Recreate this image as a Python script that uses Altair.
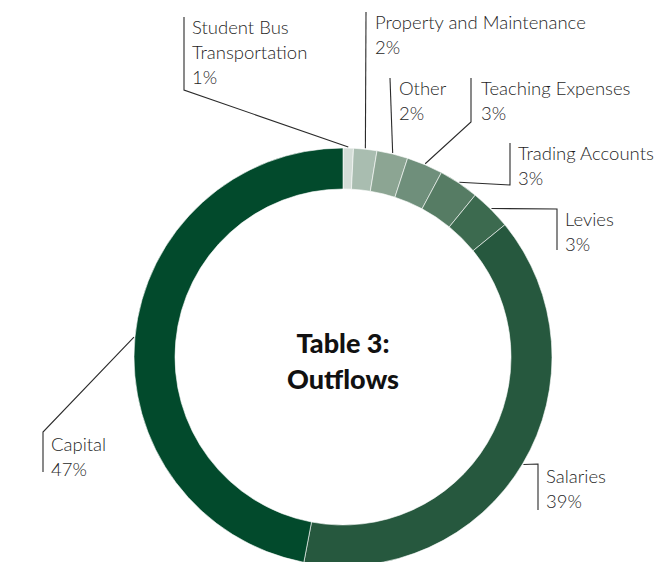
import math
import altair as alt
import pandas as pd

# ---- data ----
categories = ["Student Bus Transportation", "Property and Maintenance", "Other",
              "Teaching Expenses", "Trading Accounts", "Levies", "Salaries", "Capital"]
values = [0.8, 1.8, 2.4, 2.8, 3.1, 3.2, 38.9, 47.0]
pct_labels = ["1%", "2%", "2%", "3%", "3%", "3%", "39%", "47%"]
name_lines = [["Student Bus", "Transportation"], ["Property and Maintenance"], ["Other"],
              ["Teaching Expenses"], ["Trading Accounts"], ["Levies"], ["Salaries"], ["Capital"]]
colors = ["#d4ddd7", "#a9bdb0", "#8ca593", "#6f8f7b", "#567c64", "#3c6a4f", "#26583e", "#024a2c"]
title_lines = ["Table 3:", "Outflows"]

# ---- layout (page pixels) ----
OFF = 8
W, H = 648, 554
CX, CY = 343, 357
R_OUT, R_IN = 209, 168
# label text left x, first line centre y, leader bar x, bar start y, bar end y
label_x = [192, 375, 399, 481, 518, 565, 546, 51]
label_y = [28, 23, 89, 89, 154, 220, 477, 445]
bar_x = [184, 366, 390, 471, 510, 557, 538, 43]
bar_y0 = [17, 12, 78, 78, 143, 250, 510, 472]
bar_y1 = [90, 12, 78, 122, 185, 209, 464, 432]
LINE_H = 25

df = pd.DataFrame({"cat": categories, "val": values, "idx": list(range(len(values)))})

total = sum(values)
lead_rows = []
text_rows = []
cum = 0.0
for i, v in enumerate(values):
    th = 2 * math.pi * (cum + v / 2) / total
    cum += v
    sx = CX + (R_OUT + 1) * math.sin(th)
    sy = CY - (R_OUT + 1) * math.cos(th)
    pts = [(bar_x[i], bar_y0[i]), (bar_x[i], bar_y1[i]), (sx, sy)]
    for k, (px, py) in enumerate(pts):
        lead_rows.append({"cat": categories[i], "k": k, "px": px - OFF, "py": py - OFF})
    lines = name_lines[i] + [pct_labels[i]]
    for j, t in enumerate(lines):
        text_rows.append({"t": t, "px": label_x[i] - OFF, "py": label_y[i] + j * LINE_H - OFF})

lead_df = pd.DataFrame(lead_rows)
text_df = pd.DataFrame(text_rows)
title_df = pd.DataFrame({"t": title_lines, "px": [CX - OFF] * 2, "py": [345 - OFF, 381 - OFF]})

arcs = alt.Chart(df).mark_arc(radius=R_OUT, radius2=R_IN, stroke="white", strokeWidth=0.6).encode(
    theta=alt.Theta("val:Q", stack=True),
    order=alt.Order("idx:Q", sort="ascending"),
    color=alt.Color("cat:N", scale=alt.Scale(domain=categories, range=colors), legend=None),
    x=alt.value(CX - OFF),
    y=alt.value(CY - OFF),
)

leaders = alt.Chart(lead_df).mark_line(color="#2b2b2b", strokeWidth=1.1).encode(
    x=alt.X("px:Q", scale=None),
    y=alt.Y("py:Q", scale=None),
    detail="cat:N",
    order="k:Q",
)

texts = alt.Chart(text_df).mark_text(align="left", baseline="middle", font="Lato",
                                     fontSize=18.5, fontWeight=300, color="#1f1f1f").encode(
    x=alt.X("px:Q", scale=None),
    y=alt.Y("py:Q", scale=None),
    text="t:N",
)

title = alt.Chart(title_df).mark_text(align="center", baseline="middle", font="Lato",
                                      fontSize=27, fontWeight=900, color="#111111").encode(
    x=alt.X("px:Q", scale=None),
    y=alt.Y("py:Q", scale=None),
    text="t:N",
)

chart = alt.layer(arcs, leaders, texts, title).properties(
    width=W, height=H, padding=0, autosize=alt.AutoSizeParams(type="none")
).configure_view(strokeWidth=0)

chart.save("out.html", embed_options={"renderer": "svg", "actions": False})
